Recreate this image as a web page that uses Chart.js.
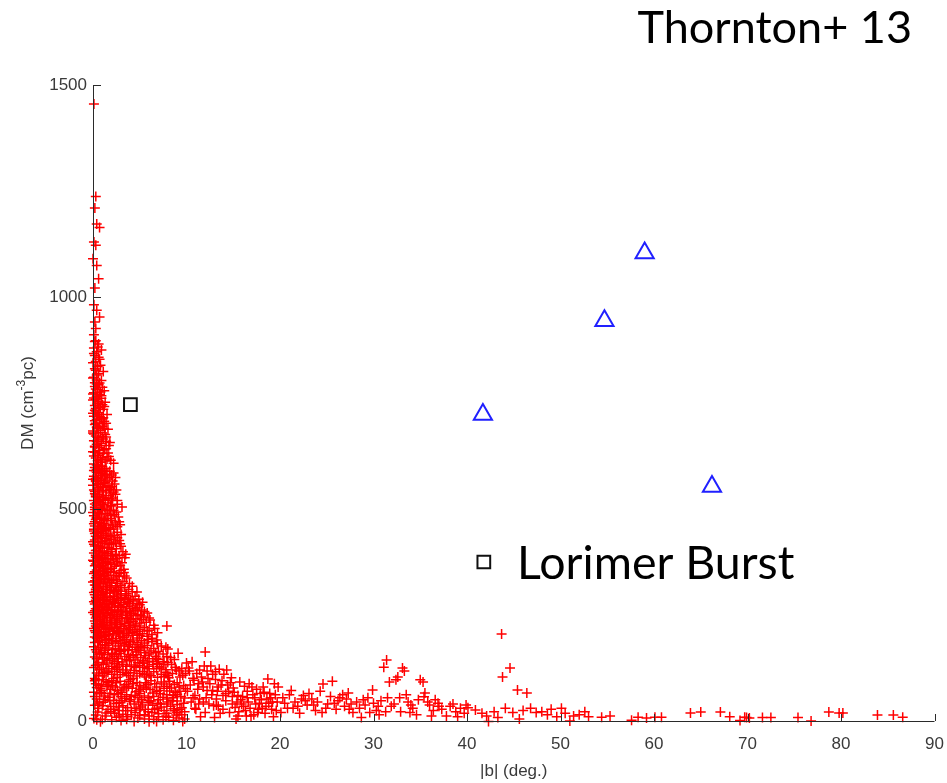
<!DOCTYPE html>
<html>
<head>
<meta charset="utf-8">
<script src="https://cdn.jsdelivr.net/npm/chart.js@4/dist/chart.umd.min.js"></script>
<style>
  html, body { margin: 0; padding: 0; background: #fff; }
  canvas { display: block; }
</style>
</head>
<body>
<canvas id="dmChart" width="947" height="783"></canvas>
<script>
// Thornton et al. 2013 FRBs: |b| (deg), DM
const frbB = [54.7, 41.7, 59.0, 66.2];
const frbDM = [944, 723, 1104, 553];

// Keane burst and Lorimer burst
const burstB = [4.0, 41.8];
const burstDM = [746, 375];

// Pulsars, [|b|, DM]
const pulsarsSpine = [
  [0.1,1455],[0.3,1237],[0.2,1210],[0.4,1172],[0.7,1164],[0.1,1130],[0.3,1122],[0.0,1090],[0.4,1074],[0.6,1043],
  [0.2,1021],[0.1,982],[0.4,969],[0.7,953],[0.2,941],[0.3,926],[0.1,911],[0.2,895],[0.5,882],[0.9,875],
  [0.1,867],[0.6,858],[0.3,848],[0.8,839],[0.2,831],[1.1,824],[0.4,816],[0.0,809],[0.9,803],
  [0.3,897],[0.6,889],[0.1,880],[0.4,871],[0.2,862],[0.7,853],[0.0,845],[0.5,836],[0.3,827],[0.6,819],
  [0.1,811],[0.4,804]
];
const pulsars600 = [
  [0.2,798],[0.6,793],[1.0,787],[0.3,783],[1.2,779],[0.1,774],[0.7,770],[0.4,765],[0.9,761],[0.0,757],
  [1.3,752],[0.5,748],[0.2,744],[0.8,740],[1.1,735],[0.3,731],[0.6,727],[1.5,723],[0.1,719],[0.9,715],
  [0.4,711],[1.2,707],[0.7,703],[0.2,699],[1.0,695],[0.5,691],[1.6,688],[0.0,684],[0.8,680],[1.3,676],
  [0.3,672],[0.6,668],[1.1,665],[0.1,661],[1.8,657],[0.4,653],[0.9,650],[0.2,646],[1.4,642],[0.7,638],
  [0.0,635],[1.1,631],[0.5,627],[1.7,624],[0.3,620],[0.8,617],[1.3,613],[2.2,608],[0.1,606],[0.6,603],
  [1.0,600],[0.4,795],[0.8,776],[0.1,762],[0.6,754],[1.0,746],[0.3,737],[0.0,726],[0.7,718],[0.2,708],
  [1.1,701],[0.4,693],[0.8,686],[0.1,677],[1.4,670],[0.5,663],[0.9,655],[0.2,648],[1.2,640],[0.6,632],
  [0.1,625],[1.5,618],[0.9,610],[0.4,604],
  [0.7,797],[0.2,789],[0.5,781],[0.0,771],[0.9,767],[0.3,759],[0.6,750],[1.2,742],[0.2,733],[0.5,722],
  [0.9,712],[0.3,702],[0.6,690],[0.0,679],[1.0,671],[0.4,659],[0.7,645],[0.2,634],[1.0,622],[0.5,614],
  [1.9,615],[1.6,632],[1.4,660],[1.2,690],[1.1,715],[1.4,702],[1.7,650]
];
const pulsars450 = [
  [0.2,598],[0.7,595],[1.2,592],[1.8,589],[0.4,586],[1.0,583],[2.0,580],[0.1,577],[0.6,574],[1.5,571],
  [0.9,568],[0.3,565],[1.3,562],[2.3,559],[0.0,556],[0.8,553],[1.7,550],[0.5,547],[1.1,544],[0.2,541],
  [1.9,538],[0.7,535],[1.4,532],[0.3,529],[2.1,526],[1.0,523],[0.1,520],[0.6,517],[1.6,514],[2.6,511],
  [0.4,508],[1.2,505],[0.8,502],[0.2,499],[1.8,496],[0.5,493],[1.3,490],[2.3,487],[0.1,484],[0.9,481],
  [1.5,478],[0.3,475],[2.0,472],[0.7,469],[1.1,466],[2.9,463],[0.2,460],[1.7,457],[0.6,454],[1.0,451],
  [0.4,594],[1.0,588],[1.5,582],[0.3,572],[1.2,566],[0.6,558],[1.5,555],[0.1,545],[1.0,540],[2.4,535],
  [0.5,527],[1.3,520],[0.2,512],[2.0,507],[0.9,497],[1.6,488],[0.4,480],[1.2,472],[2.4,467],[0.1,465],
  [0.8,458],[2.2,453],[1.4,449],[3.1,505],[2.8,470],[2.5,545],
  [0.3,590],[0.8,585],[1.3,578],[0.0,570],[2.1,566],[0.5,561],[1.0,552],[1.8,546],[0.2,536],[0.7,530],
  [1.7,524],[2.6,520],[0.4,515],[1.1,510],[1.5,500],[0.0,492],[0.6,486],[2.7,481],[1.9,477],[0.2,470],
  [1.4,462],[0.5,455],[2.6,458],[1.9,452],[0.9,590],[2.4,574],[2.2,497],
  [0.5,599],[1.4,596],[0.1,591],[2.2,585],[0.8,579],[1.8,575],[0.3,568],[1.1,560],[2.0,553],[0.6,550],
  [1.4,543],[2.2,540],[0.3,533],[1.1,528],[2.0,521],[0.8,514],[1.9,509],[0.2,504],[1.0,499],[2.5,493],
  [0.7,489],[1.9,484],[0.4,478],[1.2,476],[2.1,462],[0.9,461],[1.3,454],[0.1,452]
];
const pulsars300 = [
  [0.1,448],[0.6,446],[1.1,443],[1.7,441],[2.3,438],[0.3,436],[0.9,433],[1.4,431],[2.0,428],[2.8,426],
  [0.0,423],[0.5,421],[1.2,418],[1.8,416],[0.2,413],[0.8,411],[1.5,408],[2.5,406],[0.4,403],[1.0,401],
  [3.2,399],[0.1,396],[0.7,394],[1.3,391],[2.1,389],[0.3,386],[1.6,384],[0.9,381],[0.0,379],[2.6,376],
  [0.5,374],[1.1,371],[1.9,369],[0.2,366],[0.8,364],[1.4,361],[3.3,358],[0.4,356],[1.0,353],[2.2,351],
  [0.1,348],[0.6,346],[1.7,343],[2.8,341],[0.3,338],[1.2,336],[0.9,333],[2.0,331],[0.0,328],[0.5,326],
  [1.5,323],[3.9,324],[0.2,321],[1.1,318],[2.4,316],[0.7,313],[0.3,311],[1.8,308],[3.0,306],[4.7,304],
  [0.1,303],[1.3,301],[0.4,444],[1.5,437],[2.6,432],[0.2,427],[1.0,424],[2.2,419],[0.6,414],[1.7,409],
  [0.3,402],[1.2,397],[2.4,393],[0.6,388],[1.9,382],[0.1,377],[1.3,372],[2.9,367],[0.6,362],[1.6,357],
  [0.2,352],[1.2,347],[2.5,344],[0.4,339],[1.6,334],[3.2,329],[0.8,324],[2.0,319],[0.4,315],[1.5,311],
  [2.7,309],[0.9,305],[3.6,337],[2.2,305],[3.4,315],
  [0.2,442],[0.8,438],[1.9,435],[3.0,440],[0.5,430],[1.3,425],[2.4,422],[0.1,417],[1.0,410],[2.0,405],
  [3.0,412],[0.6,399],[1.5,395],[2.8,390],[0.3,391],[1.0,386],[2.2,380],[3.4,385],[0.7,378],[1.6,374],
  [2.5,370],[0.3,370],[1.0,366],[2.0,360],[3.0,355],[0.8,355],[1.5,350],[2.8,348],[0.4,343],[1.1,340],
  [2.2,337],[3.4,342],[0.7,330],[1.8,327],[2.6,325],[0.3,320],[1.4,316],[2.9,314],[0.6,308],[1.1,304],
  [2.3,302],[3.8,310],[4.2,318],[3.6,300],
  [0.9,447],[2.6,445],[1.6,420],[2.9,418],[0.8,407],[2.0,400],[3.5,393],[1.9,391],[0.5,383],[2.5,383],
  [1.4,377],[3.1,373],[0.7,368],[2.3,365],[1.1,360],[0.4,350],[1.9,352],[3.3,350],[1.4,344],[2.5,333],
  [0.2,331],[1.3,328],[3.0,320],[0.6,318],[1.8,314],[2.5,309],[0.3,306],[4.2,305],[1.8,302],[3.0,300]
];
const pulsars200 = [
  [0.2,298],[0.8,297],[1.5,295],[2.2,294],[3.0,292],[3.8,290],[0.4,289],[1.1,287],[1.9,286],[2.7,284],
  [4.3,283],[0.1,281],[0.7,280],[1.4,278],[2.4,277],[3.3,275],[5.0,274],[0.5,272],[1.2,271],[2.0,269],
  [2.9,268],[3.9,266],[0.3,265],[0.9,263],[1.7,262],[4.6,260],[2.6,259],[3.5,257],[0.0,256],[0.6,254],
  [1.3,253],[5.8,255],[2.1,251],[3.1,250],[4.1,248],[0.4,247],[1.0,245],[1.8,244],[2.8,242],[3.7,241],
  [5.2,239],[6.1,238],[0.2,236],[0.8,235],[1.5,233],[2.4,232],[3.4,230],[4.5,229],[0.5,227],[1.2,226],
  [2.0,224],[7.9,224],[3.0,223],[4.0,221],[5.5,220],[0.1,218],[0.7,217],[1.6,215],[2.6,214],[3.6,212],
  [4.8,211],[0.3,209],[1.1,208],[2.2,206],[3.2,205],[6.3,204],[0.5,203],[1.4,201],[2.9,200],[4.2,202],
  [0.5,296],[1.8,292],[3.4,287],[0.3,285],[2.1,281],[1.0,275],[4.2,271],[1.6,267],[0.2,260],[3.2,262],
  [2.3,256],[4.8,251],[1.5,248],[0.3,243],[2.5,238],[4.3,235],[1.1,231],[0.4,221],[2.5,219],[5.0,216],
  [1.8,211],[3.8,207],[0.8,205],[5.4,245],[4.5,264],
  [0.3,292],[1.2,291],[2.5,289],[4.0,286],[0.8,284],[1.6,282],[3.0,279],[4.7,278],[0.2,276],[1.8,274],
  [2.7,272],[3.6,270],[0.7,268],[1.4,264],[2.3,262],[3.9,259],[5.2,262],[0.5,258],[1.1,257],[3.0,255],
  [4.3,253],[0.2,251],[1.9,249],[2.6,246],[3.6,244],[4.6,242],[0.7,240],[1.4,238],[3.1,236],[5.7,233],
  [0.3,230],[2.0,229],[2.9,227],[3.9,226],[5.0,224],[0.9,222],[1.8,220],[3.3,218],[4.4,216],[6.0,214],
  [0.2,213],[1.3,211],[2.7,209],[4.2,208],[5.3,206],[0.9,201],[2.1,203],[3.6,201],[5.8,200],[6.6,218],
  [1.0,299],[2.6,297],[3.5,296],[4.5,294],[0.6,291],[2.9,289],[4.9,287],[1.4,285],[3.7,282],[0.4,279],
  [2.3,279],[5.3,280],[3.9,277],[1.0,270],[2.7,268],[4.8,267],[0.6,263],[2.0,261],[3.0,259],[5.5,258],
  [1.5,256],[4.0,255],[0.8,250],[2.6,252],[3.7,249],[5.1,248],[1.2,243],[2.3,242],[4.0,240],[6.0,243],
  [0.5,239],[1.9,236],[3.8,233],[5.0,231],[2.6,228],[1.0,227],[4.6,224],[6.5,226],[0.3,224],[2.3,221],
  [3.9,215],[5.8,212],[1.4,218],[2.8,211],[6.9,208],[0.6,210],[4.7,205],[1.7,204],[3.3,207],[5.0,202]
];
const pulsars100 = [
  [0.2,198],[0.9,197],[1.7,195],[2.5,194],[3.4,192],[4.3,191],[5.2,189],[6.8,191],[0.5,187],[1.3,186],
  [2.1,184],[3.0,183],[3.9,181],[4.8,180],[5.8,178],[7.3,177],[0.1,175],[0.8,174],[1.6,172],[2.4,171],
  [3.3,169],[4.2,168],[5.1,166],[6.2,165],[8.0,170],[0.4,163],[1.2,162],[2.0,160],[2.9,159],[3.8,157],
  [4.7,156],[5.6,154],[6.7,153],[9.1,160],[0.2,151],[1.0,150],[1.8,148],[2.7,147],[3.6,145],[4.5,144],
  [5.4,142],[6.4,141],[7.6,140],[0.6,138],[1.4,137],[2.3,135],[3.2,134],[4.1,132],[5.0,131],[6.0,129],
  [7.1,128],[8.4,133],[10.0,137],[0.1,126],[0.9,125],[1.7,123],[2.6,122],[3.5,120],[4.4,119],[5.3,117],
  [6.5,116],[7.8,115],[9.2,118],[0.4,113],[1.2,112],[2.0,110],[2.9,109],[3.8,107],[4.7,106],[5.7,104],
  [6.9,103],[8.1,102],[10.7,101],[0.2,100],[0.5,194],[2.0,189],[3.6,186],[5.5,184],[1.0,180],[2.7,177],
  [4.5,174],[6.5,171],[1.3,167],[3.0,164],[5.5,161],[7.5,158],[0.7,156],[2.3,153],[4.0,150],[6.0,147],
  [8.7,145],[1.5,142],[3.1,139],[5.3,136],[7.5,134],[0.3,131],[2.0,129],[4.6,126],[6.8,123],[8.8,127],
  [1.4,118],[3.2,115],[5.0,112],[7.3,110],[9.6,108],[12.0,163],[11.4,120],[14.3,120],[13.1,116],
  [0.4,196],[1.4,193],[2.9,190],[4.0,188],[5.9,192],[0.2,185],[1.7,182],[3.4,179],[5.1,176],[6.9,182],
  [0.6,172],[2.1,168],[3.7,166],[4.9,170],[7.0,164],[0.9,160],[2.5,157],[4.3,154],[6.0,158],[7.9,152],
  [0.4,147],[2.1,144],[3.9,142],[5.8,139],[7.0,145],[8.0,138],[1.1,133],[2.8,130],[4.4,128],[6.4,133],
  [8.9,120],[0.7,121],[2.3,117],[4.0,114],[6.0,111],[8.5,112],[1.0,106],[2.6,103],[4.3,101],[6.2,107],
  [7.6,105],[9.9,112],[3.6,129],[5.8,123],[7.8,121],
  [1.2,199],[3.2,197],[4.8,196],[6.3,195],[0.7,190],[2.4,187],[4.7,185],[6.3,187],[1.4,178],[3.8,176],
  [5.5,173],[7.8,174],[0.3,168],[2.8,167],[4.6,163],[6.7,161],[1.6,156],[3.4,152],[5.1,150],[6.8,148],
  [8.3,150],[1.2,146],[2.6,140],[4.8,138],[6.9,136],[0.5,134],[2.5,126],[5.5,127],[7.3,125],[9.5,124],
  [1.6,115],[3.6,112],[5.5,109],[8.0,108],[9.3,104],[0.6,108]
];
const pulsars0 = [
  [0.3,98],[1.1,97],[2.0,95],[2.9,94],[3.8,93],[4.7,91],[5.6,90],[6.6,88],[7.6,87],[8.7,86],
  [9.7,84],[0.6,83],[1.5,81],[2.4,80],[3.3,78],[4.2,77],[5.1,75],[6.1,74],[7.1,72],[8.2,71],
  [9.3,70],[0.1,68],[0.9,67],[1.8,65],[2.7,64],[3.6,62],[4.5,61],[5.5,59],[6.5,58],[7.5,56],
  [8.6,55],[9.8,54],[0.4,52],[1.3,51],[2.2,49],[3.1,48],[4.0,46],[4.9,45],[5.9,43],[6.9,42],
  [7.9,40],[9.0,39],[0.2,37],[1.0,36],[1.9,34],[2.8,33],[3.7,31],[4.6,30],[5.6,28],[6.6,27],
  [7.6,25],[8.7,24],[9.8,22],[0.5,21],[1.4,19],[2.3,18],[3.2,16],[4.1,15],[5.0,13],[6.0,12],
  [7.0,10],[8.1,9],[9.2,7],[0.1,6],[1.0,4],[2.0,3],[3.0,1],[4.4,-1],[0.3,88],[1.7,90],
  [3.4,86],[5.0,84],[6.8,80],[8.4,78],[0.8,76],[2.6,72],[4.6,69],[6.4,66],[9.0,63],[1.2,59],
  [3.0,57],[4.8,55],[7.0,50],[0.7,45],[2.5,41],[5.3,38],[8.3,35],[1.6,27],[3.5,24],[6.3,20],
  [0.3,14],[2.5,9],[5.5,5],[7.5,3],[9.5,15],[6.0,-2],[8.5,48],[9.5,31],
  [0.2,95],[1.4,93],[2.5,90],[4.3,88],[5.9,86],[7.3,92],[9.0,90],[0.9,86],[2.1,84],[3.8,82],
  [5.4,80],[7.9,82],[9.9,76],[0.4,79],[1.9,75],[3.1,73],[4.9,71],[6.8,70],[8.8,68],[0.7,64],
  [2.3,62],[4.1,58],[5.9,55],[7.9,62],[9.4,58],[0.2,58],[1.6,56],[3.4,53],[5.2,50],[6.2,47],
  [8.0,45],[9.7,42],[1.1,44],[2.8,43],[4.4,40],[6.4,37],[7.3,33],[9.3,28],[0.6,30],[2.2,28],
  [4.1,25],[5.9,22],[7.9,18],[8.9,14],[1.3,12],[3.7,10],[4.8,7],[6.5,4],[8.6,2],[0.8,-2],
  [2.7,25],[5.1,33],[7.2,40],[9.6,-1],
  [2.2,100],[4.0,97],[6.2,95],[8.2,94],[1.6,85],[3.6,80],[5.7,78],[7.6,77],[9.2,80],[0.9,72],
  [3.0,68],[5.0,65],[7.2,64],[8.6,60],[1.8,48],[3.9,50],[6.0,48],[7.9,52],[9.0,47],[0.5,40],
  [3.2,36],[5.0,26],[6.9,30],[8.6,29],[1.9,22],[4.5,20],[7.0,17],[9.0,20],[2.8,12],[5.5,15],
  [7.8,11],[0.4,3],[3.6,4],[6.8,-1],[9.8,5]
];
const pulsarsMidLat = [
  [10.3,118],[10.8,96],[11.2,75],[11.6,104],[12.1,55],[12.5,88],[12.9,36],[13.3,70],[13.8,95],[14.2,48],
  [14.6,20],[15.0,78],[15.5,60],[15.7,92],[16.1,35],[16.5,70],[16.9,12],[17.3,55],[17.8,42],[18.2,80],
  [18.7,99],[19.1,28],[19.5,62],[19.8,80],[10.5,45],[11.0,28],[11.5,10],[11.9,130],[12.3,100],[12.8,72],
  [13.2,52],[13.6,18],[14.0,110],[14.4,85],[14.9,40],[15.3,5],[15.8,50],[16.3,25],[16.7,88],[17.1,62],
  [17.6,20],[18.0,50],[18.5,35],[18.9,65],[19.3,10],[10.1,70],[10.6,140],[11.3,88],[12.6,130],[13.5,122],
  [14.8,102],[15.2,32],[16.0,58],[17.5,75],[18.4,18],[19.7,45],[10.9,60],[13.0,8],[16.6,45],[12.0,20],
  [10.4,85],[10.9,30],[11.4,52],[11.8,80],[12.4,40],[12.8,110],[13.4,35],[13.9,60],[14.5,70],[14.9,58],
  [15.6,22],[16.2,82],[16.8,30],[17.4,40],[17.9,65],[18.6,52],[19.2,45],[19.6,25],[11.1,112],[12.2,72],
  [13.7,85],[15.4,45],[16.4,12],[18.1,30],
  [10.2,125],[10.7,55],[11.3,40],[11.7,92],[12.2,118],[12.7,62],[13.1,98],[13.4,80],[13.9,28],[14.2,65],
  [14.7,90],[15.1,68],[15.9,40],[16.5,55],[17.0,80],[17.7,28],[18.3,68],[18.8,42],[19.4,88],[11.8,45],
  [13.2,38],[15.5,12],[17.2,15],[19.0,55],
  [20.3,55],[20.8,30],[21.2,72],[21.6,45],[22.1,18],[22.5,60],[22.9,38],[23.4,52],[23.8,25],[24.3,70],
  [24.6,87],[25.1,40],[25.6,94],[26.0,28],[26.4,55],[26.9,35],[27.3,66],[27.8,20],[28.2,45],[28.7,8],
  [29.1,38],[29.9,73],[30.3,25],[30.8,48],[31.1,127],[31.4,144],[31.7,92],[31.9,35],[32.4,97],[32.6,104],
  [32.9,22],[33.1,125],[33.3,118],[33.7,45],[34.2,30],[34.6,15],[35.0,97],[35.3,92],[35.5,66],[35.4,57],
  [36.0,38],[36.4,25],[36.9,42],[37.3,28],[37.8,12],[38.2,35],[38.8,22],[39.3,30],[39.7,18],[34.8,50],
  [20.5,42],[21.0,62],[21.9,35],[22.7,48],[23.1,65],[24.0,45],[24.9,30],[25.4,58],[26.2,48],[27.1,52],
  [27.6,40],[28.5,30],[29.4,55],[30.0,42],[30.6,15],[31.5,55],[32.2,40],[33.5,62],[34.0,38],[36.6,50],
  [20.1,20],[21.4,30],[22.3,52],[23.6,38],[24.5,20],[25.8,42],[26.7,62],[27.4,28],[28.9,50],[29.6,20],
  [30.5,35],[31.3,22],[32.8,55],[33.9,20],[35.8,45],[36.2,12],[37.0,35],[38.5,40],[39.0,10],[39.9,38]
];
const pulsarsHighLat = [
  [40.1,31],[40.9,26],[41.6,18],[42.1,12],[42.3,-1],[42.9,22],[43.3,8],[43.7,205],[43.8,104],[44.1,30],
  [44.6,125],[44.9,20],[45.4,73],[45.6,5],[46.0,25],[46.4,66],[46.8,30],[47.4,20],[48.0,22],[48.6,15],
  [49.0,28],[49.6,10],[50.1,30],[50.5,18],[51.0,0],[51.4,12],[52.0,15],[52.6,22],[53.0,10],[54.4,9],
  [55.3,12],[57.6,2],[58.3,9],[59.2,7],[60.1,9],[60.8,9],[63.9,19],[65.0,21],[67.1,21],[68.1,10],
  [69.2,1],[69.7,9],[69.9,8],[70.2,7],[71.6,8],[72.5,8],[75.4,8],[76.8,0],[78.7,21],[79.8,19],
  [80.2,19],[83.9,14],[85.6,14],[86.6,9]
];

const xTicks = [0, 10, 20, 30, 40, 50, 60, 70, 80, 90];
const yTicks = [0, 500, 1000, 1500];

const pulsars = [].concat(pulsarsSpine, pulsars600, pulsars450, pulsars300,
  pulsars200, pulsars100, pulsars0, pulsarsMidLat, pulsarsHighLat)
  .map(p => ({ x: p[0], y: p[1] }));
const frbs = frbB.map((b, i) => ({ x: b, y: frbDM[i] }));
const bursts = burstB.map((b, i) => ({ x: b, y: burstDM[i] }));

const fontFamily = '"Liberation Sans", Arial, sans-serif';
const tickFont = '17px ' + fontFamily;
const tickColor = '#3a3a3a';

// MATLAB style axes: lines and inward ticks on top of the markers, plus the labels
const matlabAxes = {
  id: 'matlabAxes',
  afterDatasetsDraw(chart) {
    const { ctx, chartArea: a, scales: { x, y } } = chart;
    ctx.save();
    ctx.strokeStyle = '#2a2a2a';
    ctx.lineWidth = 1;
    ctx.beginPath();
    ctx.moveTo(a.left + 0.5, a.top);
    ctx.lineTo(a.left + 0.5, a.bottom + 0.5);
    ctx.lineTo(a.right, a.bottom + 0.5);
    xTicks.forEach(v => {
      const px = Math.round(x.getPixelForValue(v)) + 0.5;
      ctx.moveTo(px, a.bottom);
      ctx.lineTo(px, a.bottom - 7);
    });
    yTicks.forEach(v => {
      const py = Math.round(y.getPixelForValue(v)) + 0.5;
      ctx.moveTo(a.left, py);
      ctx.lineTo(a.left + 8, py);
    });
    ctx.stroke();

    // axis titles
    ctx.fillStyle = tickColor;
    ctx.font = tickFont;
    ctx.textAlign = 'center';
    ctx.textBaseline = 'middle';
    ctx.fillText('|b| (deg.)', (a.left + a.right) / 2, 771);

    ctx.save();
    ctx.translate(28, (a.top + a.bottom) / 2);
    ctx.rotate(-Math.PI / 2);
    ctx.textAlign = 'left';
    const p1 = 'DM (cm', sup = '-3', p2 = 'pc)';
    const supFont = '12px ' + fontFamily;
    ctx.font = tickFont;
    const w1 = ctx.measureText(p1).width;
    ctx.font = supFont;
    const ws = ctx.measureText(sup).width;
    ctx.font = tickFont;
    const w2 = ctx.measureText(p2).width;
    const start = -(w1 + ws + w2) / 2;
    ctx.fillText(p1, start, 0);
    ctx.font = supFont;
    ctx.fillText(sup, start + w1, -6);
    ctx.font = tickFont;
    ctx.fillText(p2, start + w1 + ws, 0);
    ctx.restore();

    // annotations
    ctx.fillStyle = '#000';
    ctx.textBaseline = 'alphabetic';
    ctx.font = '45px Lato, "Open Sans", sans-serif';
    ctx.textAlign = 'right';
    ctx.fillText('Thornton+ 13', 912, 43);
    ctx.font = '46.5px Lato, "Open Sans", sans-serif';
    ctx.textAlign = 'left';
    ctx.fillText('Lorimer Burst', 517, 579);
    ctx.restore();
  }
};

const ctx = document.getElementById('dmChart').getContext('2d');
new Chart(ctx, {
  type: 'scatter',
  data: {
    datasets: [
      {
        label: 'Thornton+ 13',
        data: frbs,
        pointStyle: 'triangle',
        pointRadius: 10.5,
        pointBorderWidth: 2,
        pointBorderColor: '#2020ff',
        pointBackgroundColor: 'rgba(0,0,0,0)',
        clip: false
      },
      {
        label: 'Keane / Lorimer bursts',
        data: bursts,
        pointStyle: 'rect',
        pointRadius: 9,
        pointBorderWidth: 2,
        pointBorderColor: '#111',
        pointBackgroundColor: 'rgba(0,0,0,0)',
        clip: false
      },
      {
        label: 'Pulsars',
        data: pulsars,
        pointStyle: 'cross',
        pointRadius: 5,
        pointBorderWidth: 1.5,
        pointBorderColor: '#ff0000',
        clip: false
      }
    ]
  },
  options: {
    responsive: false,
    animation: false,
    events: [],
    layout: { padding: { top: 85, right: 12, bottom: 0, left: 0 } },
    plugins: {
      legend: { display: false },
      tooltip: { enabled: false }
    },
    scales: {
      x: {
        type: 'linear',
        min: 0,
        max: 90,
        afterFit(scale) { scale.height = 62; scale.paddingLeft = 0; scale.paddingRight = 0; },
        afterBuildTicks(scale) { scale.ticks = xTicks.map(v => ({ value: v })); },
        grid: { display: false, drawTicks: false },
        border: { display: false },
        ticks: {
          color: tickColor, font: { family: fontFamily, size: 17 }, padding: 13, maxRotation: 0,
          callback: v => String(v)
        }
      },
      y: {
        type: 'linear',
        min: 0,
        max: 1500,
        afterFit(scale) { scale.width = 93; scale.paddingTop = 0; scale.paddingBottom = 0; },
        afterBuildTicks(scale) { scale.ticks = yTicks.map(v => ({ value: v })); },
        grid: { display: false, drawTicks: false },
        border: { display: false },
        ticks: {
          color: tickColor, font: { family: fontFamily, size: 17 }, padding: 6,
          callback: v => String(v)
        }
      }
    }
  },
  plugins: [matlabAxes]
});
</script>
</body>
</html>
